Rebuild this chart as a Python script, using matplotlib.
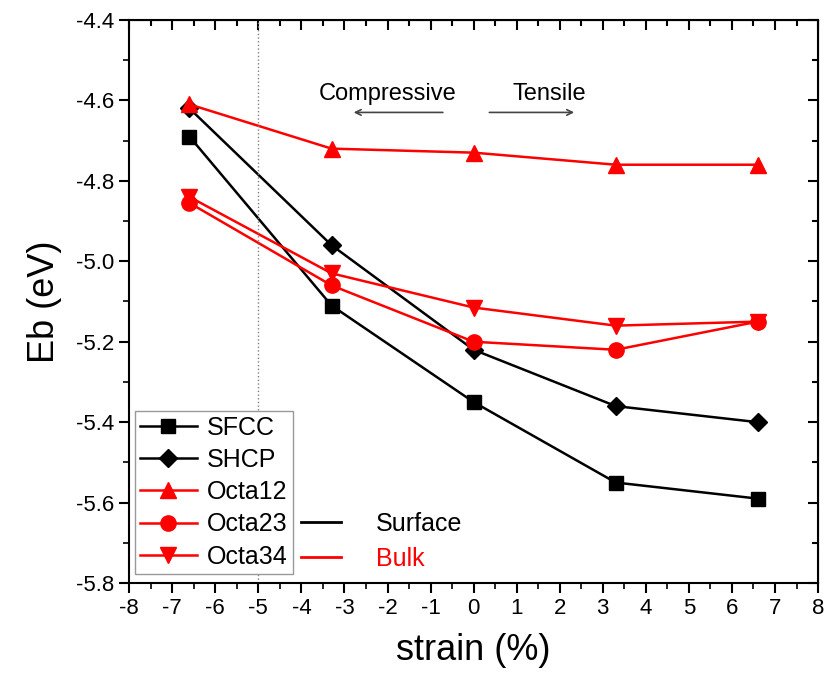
"""Binding energy vs strain, surface and bulk sites."""
import matplotlib
matplotlib.use('Agg')
import matplotlib.pyplot as plt
from matplotlib.lines import Line2D
from matplotlib.ticker import MultipleLocator

plt.rcParams['font.family'] = ['Liberation Sans', 'DejaVu Sans']
plt.rcParams['axes.unicode_minus'] = False

strain = [-6.6, -3.3, 0, 3.3, 6.6]
sfcc = [-4.69, -5.11, -5.35, -5.55, -5.59]
shcp = [-4.62, -4.96, -5.22, -5.36, -5.40]
octa12 = [-4.61, -4.72, -4.73, -4.76, -4.76]
octa23 = [-4.855, -5.06, -5.20, -5.22, -5.15]
octa34 = [-4.84, -5.03, -5.115, -5.16, -5.15]

fig = plt.figure(figsize=(8.28, 6.86), dpi=100)
ax = fig.add_axes([0.156, 0.150, 0.832, 0.821])

ax.plot(strain, sfcc, color='black', marker='s', label='SFCC', lw=1.8, ms=10.5)
ax.plot(strain, shcp, color='black', marker='D', label='SHCP', lw=1.8, ms=9.5)
ax.plot(strain, octa12, color='red', marker='^', label='Octa12', lw=1.8, ms=12)
ax.plot(strain, octa23, color='red', marker='o', label='Octa23', lw=1.8, ms=11)
ax.plot(strain, octa34, color='red', marker='v', label='Octa34', lw=1.8, ms=12)

ax.axvline(-5, color='grey', ls=':', lw=1)

# compressive / tensile annotation
ax.text(-2.0, -4.585, 'Compressive', fontsize=17, ha='center', va='center')
ax.text(1.75, -4.585, 'Tensile', fontsize=17, ha='center', va='center')
ax.annotate('', xy=(-2.85, -4.63), xytext=(-0.65, -4.63),
            arrowprops=dict(arrowstyle='->', color='#444444', lw=1.2))
ax.annotate('', xy=(2.4, -4.63), xytext=(0.3, -4.63),
            arrowprops=dict(arrowstyle='->', color='#444444', lw=1.2))

ax.set_xlim(-8, 8)
ax.set_ylim(-5.8, -4.4)
ax.xaxis.set_major_locator(MultipleLocator(1))
ax.xaxis.set_minor_locator(MultipleLocator(0.5))
ax.yaxis.set_major_locator(MultipleLocator(0.2))
ax.yaxis.set_minor_locator(MultipleLocator(0.1))
ax.yaxis.set_major_formatter(plt.FormatStrFormatter('%.1f'))
ax.tick_params(which='major', direction='out', length=7, width=1.5, labelsize=16)
ax.tick_params(which='minor', direction='out', length=4, width=1.2)
for s in ax.spines.values():
    s.set_linewidth(1.5)

# inward ticks on top and right
top = ax.secondary_xaxis('top')
top.xaxis.set_major_locator(MultipleLocator(1))
top.xaxis.set_minor_locator(MultipleLocator(0.5))
top.tick_params(which='both', direction='in', labeltop=False, width=1.5)
top.tick_params(which='major', length=7)
top.tick_params(which='minor', length=4)
right = ax.secondary_yaxis('right')
right.yaxis.set_major_locator(MultipleLocator(0.2))
right.yaxis.set_minor_locator(MultipleLocator(0.1))
right.tick_params(which='both', direction='in', labelright=False, width=1.5)
right.tick_params(which='major', length=7)
right.tick_params(which='minor', length=4)

ax.set_xlabel('strain (%)', fontsize=26, labelpad=10)
ax.set_ylabel('Eb (eV)', fontsize=26, labelpad=10)

leg1 = ax.legend(loc='lower left', bbox_to_anchor=(0.008, 0.017), fontsize=18,
                 fancybox=False, edgecolor='#999999', framealpha=1,
                 handlelength=2.3, borderpad=0.2, labelspacing=0.33,
                 handletextpad=0.4, borderaxespad=0)
ax.add_artist(leg1)

handles = [Line2D([], [], color='black', lw=2), Line2D([], [], color='red', lw=2)]
ax.legend(handles, ['Surface', 'Bulk'], loc='lower left',
          bbox_to_anchor=(0.235, 0.004), fontsize=18, frameon=False,
          labelcolor=['black', 'red'], handlelength=1.6, handletextpad=1.4,
          labelspacing=0.45, borderaxespad=0)

fig.savefig('out.png', dpi=100)
